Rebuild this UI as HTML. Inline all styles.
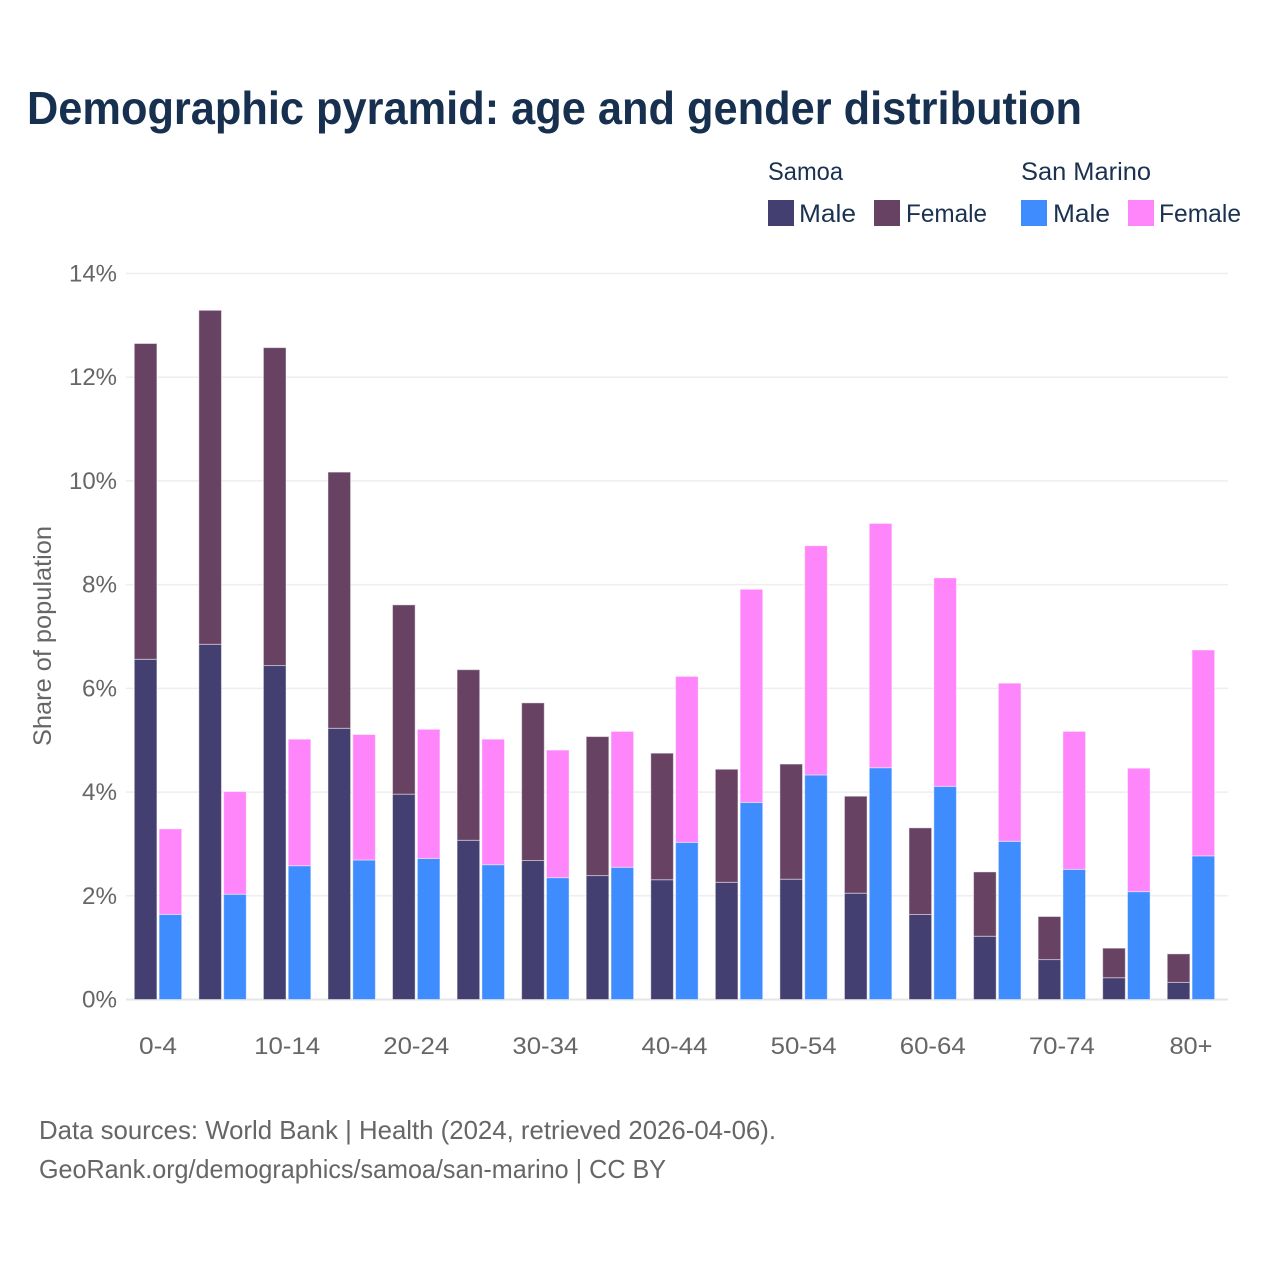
<!DOCTYPE html>
<html lang="en">
<head>
<meta charset="utf-8">
<title>Demographic pyramid</title>
<style>
html,body{margin:0;padding:0;background:#fff;}
svg{display:block;font-family:"Liberation Sans",sans-serif;}
</style>
</head>
<body>
<svg id="chart" width="1280" height="1280" viewBox="0 0 1280 1280" xmlns="http://www.w3.org/2000/svg">
<rect width="1280" height="1280" fill="#ffffff"/>
<text x="27" y="124" font-size="46" font-weight="700" fill="#17304f" textLength="1055" lengthAdjust="spacingAndGlyphs">Demographic pyramid: age and gender distribution</text>

<g font-size="25" fill="#1a3150">
<text x="768" y="180" textLength="75" lengthAdjust="spacingAndGlyphs">Samoa</text>
<text x="1021" y="180" textLength="130" lengthAdjust="spacingAndGlyphs">San Marino</text>
<rect x="768" y="200" width="26" height="26" fill="#433f70"/>
<text x="799" y="222" textLength="57" lengthAdjust="spacingAndGlyphs">Male</text>
<rect x="874" y="200" width="26" height="26" fill="#674263"/>
<text x="906" y="222" textLength="81" lengthAdjust="spacingAndGlyphs">Female</text>
<rect x="1021" y="200" width="26" height="26" fill="#3f8cff"/>
<text x="1053" y="222" textLength="57" lengthAdjust="spacingAndGlyphs">Male</text>
<rect x="1128" y="200" width="26" height="26" fill="#ff85fa"/>
<text x="1159" y="222" textLength="82" lengthAdjust="spacingAndGlyphs">Female</text>
</g>

<g id="grid"></g>
<g id="bars"></g>
<g id="yticks"></g>
<g id="xticks"></g>

<text transform="translate(51,636) rotate(-90)" text-anchor="middle" font-size="25" fill="#666666" textLength="220" lengthAdjust="spacingAndGlyphs">Share of population</text>

<text x="39" y="1139" font-size="26" fill="#666666" textLength="737" lengthAdjust="spacingAndGlyphs">Data sources: World Bank | Health (2024, retrieved 2026-04-06).</text>
<text x="39" y="1178" font-size="26" fill="#666666" textLength="627" lengthAdjust="spacingAndGlyphs">GeoRank.org/demographics/samoa/san-marino | CC BY</text>
</svg>
<script>
const categories = ['0-4','5-9','10-14','15-19','20-24','25-29','30-34','35-39','40-44','45-49','50-54','55-59','60-64','65-69','70-74','75-79','80+'];
const samoaMale = [6.56,6.85,6.44,5.23,3.96,3.07,2.68,2.39,2.31,2.26,2.32,2.05,1.64,1.22,0.77,0.42,0.33];
const samoaFemale = [6.09,6.44,6.13,4.94,3.65,3.29,3.04,2.68,2.44,2.18,2.22,1.87,1.67,1.24,0.83,0.57,0.55];
const sanMarinoMale = [1.64,2.03,2.58,2.69,2.72,2.60,2.35,2.55,3.03,3.80,4.33,4.47,4.11,3.05,2.51,2.08,2.77];
const sanMarinoFemale = [1.65,1.98,2.44,2.42,2.49,2.42,2.46,2.62,3.20,4.11,4.42,4.71,4.02,3.05,2.66,2.38,3.97];
const yTicks = [0,2,4,6,8,10,12,14];
const xTickLabels = ['0-4','','10-14','','20-24','','30-34','','40-44','','50-54','','60-64','','70-74','','80+'];

const NS = 'http://www.w3.org/2000/svg';
const yScale = v => 999.5 - v * (726 / 14);
const xCenter = i => 158 + i * 64.56;
const barW = 22.6;
const barGap = 2.2;

const gridG = document.getElementById('grid');
const barsG = document.getElementById('bars');
const yTickG = document.getElementById('yticks');
const xTickG = document.getElementById('xticks');

function makeBar(parent, name, x, v0, v1, fill) {
  const r = document.createElementNS(NS, 'rect');
  
  
  r.setAttribute('x', x);
  r.setAttribute('y', yScale(v1));
  r.setAttribute('width', barW);
  r.setAttribute('height', Math.max(0, yScale(v0) - yScale(v1)));
  r.setAttribute('fill', fill);
  r.setAttribute('stroke', '#ffffff');
  r.setAttribute('stroke-opacity', '0.45');
  r.setAttribute('stroke-width', '1');
  parent.appendChild(r);
}

yTicks.forEach(t => {
  const l = document.createElementNS(NS, 'line');
  
  
  l.setAttribute('x1', 126);
  l.setAttribute('x2', 1228);
  l.setAttribute('y1', yScale(t));
  l.setAttribute('y2', yScale(t));
  l.setAttribute('stroke', t === 0 ? '#e6e6e6' : '#eeeeee');
  l.setAttribute('stroke-width', t === 0 ? 2 : 1.5);
  gridG.appendChild(l);

  const s = t + '%';
  const txt = document.createElementNS(NS, 'text');
  
  
  txt.setAttribute('x', 117);
  txt.setAttribute('y', yScale(t) + 8);
  txt.setAttribute('text-anchor', 'end');
  txt.setAttribute('font-size', '24.5');
  txt.setAttribute('fill', '#666666');
  txt.setAttribute('textLength', s.length === 2 ? 35 : 48);
  txt.setAttribute('lengthAdjust', 'spacingAndGlyphs');
  txt.textContent = s;
  yTickG.appendChild(txt);
});

categories.forEach((c, i) => {
  const cx = xCenter(i);
  const xA = cx - barGap / 2 - barW;
  const xB = cx + barGap / 2;
  makeBar(barsG, 'bar-samoa-male-' + c, xA, 0, samoaMale[i], '#433f70');
  makeBar(barsG, 'bar-samoa-female-' + c, xA, samoaMale[i], samoaMale[i] + samoaFemale[i], '#674263');
  makeBar(barsG, 'bar-san-marino-male-' + c, xB, 0, sanMarinoMale[i], '#3f8cff');
  makeBar(barsG, 'bar-san-marino-female-' + c, xB, sanMarinoMale[i], sanMarinoMale[i] + sanMarinoFemale[i], '#ff85fa');
  if (xTickLabels[i]) {
    const s = xTickLabels[i];
    const txt = document.createElementNS(NS, 'text');
    
    
    txt.setAttribute('x', cx);
    txt.setAttribute('y', 1054);
    txt.setAttribute('text-anchor', 'middle');
    txt.setAttribute('font-size', '24.5');
    txt.setAttribute('fill', '#666666');
    txt.setAttribute('textLength', s.length === 5 ? 66 : (s.length === 3 && s !== '0-4' ? 43 : 38));
    txt.setAttribute('lengthAdjust', 'spacingAndGlyphs');
    txt.textContent = s;
    xTickG.appendChild(txt);
  }
});
</script>
</body>
</html>
